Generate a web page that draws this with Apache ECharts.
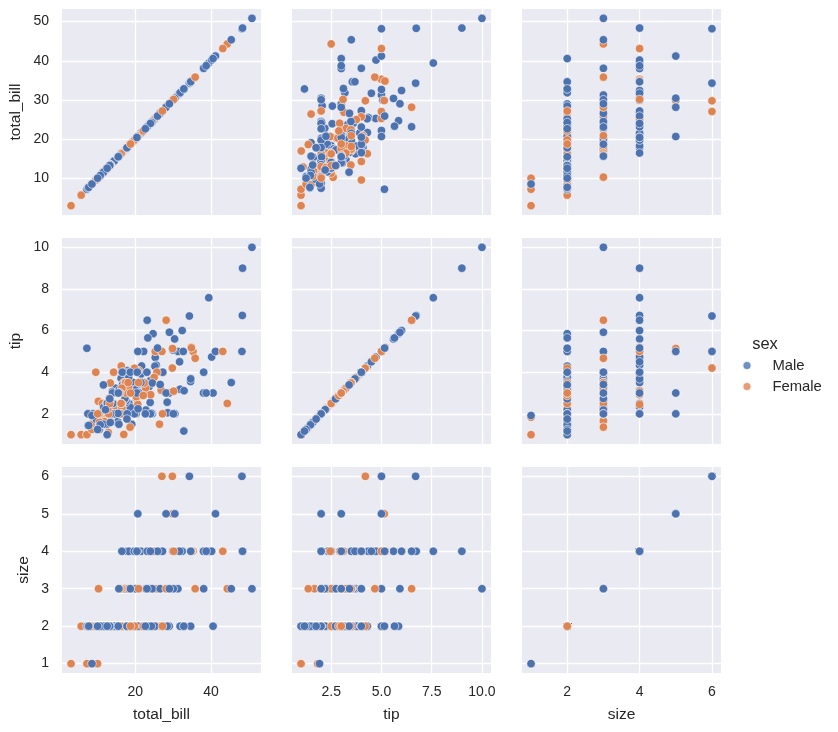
<!DOCTYPE html>
<html>
<head>
<meta charset="utf-8">
<script src="https://cdn.jsdelivr.net/npm/echarts@6/dist/echarts.min.js"></script>
<style>
html,body{margin:0;padding:0;background:#fff;}
#chart{width:838px;height:732px;}
</style>
</head>
<body>
<div id="chart"></div>
<script>
// ---- data (tips dataset as shown) ----
const totalBill = [
16.99,10.34,21.01,23.68,24.59,25.29,8.77,26.88,15.04,14.78,
10.27,35.26,15.42,18.43,14.83,21.58,10.33,16.29,16.97,20.65,
17.92,20.29,15.77,39.42,19.82,17.81,13.37,12.69,21.7,19.65,
9.55,18.35,15.06,20.69,17.78,24.06,16.31,16.93,18.69,31.27,
16.04,17.46,13.94,9.68,30.4,18.29,22.23,32.4,28.55,18.04,
12.54,10.29,34.81,9.94,25.56,19.49,38.01,26.41,11.24,48.27,
20.29,13.81,11.02,18.29,17.59,20.08,16.45,3.07,20.23,15.01,
12.02,17.07,26.86,25.28,14.73,10.51,17.92,27.2,22.76,17.29,
19.44,16.66,10.07,32.68,15.98,34.83,13.03,18.28,24.71,21.16,
28.97,22.49,5.75,16.32,22.75,40.17,27.28,12.03,21.01,12.46,
11.35,15.38,44.3,22.42,20.92,15.36,20.49,25.21,18.24,14.31,
14.0,7.25,38.07,23.95,25.71,17.31,29.93,10.65,12.43,24.08,
11.69,13.42,14.26,15.95,12.48,29.8,8.52,14.52,11.38,22.82,
19.08,20.27,11.17,12.26,18.26,8.51,10.33,14.15,16.0,13.16,
17.47,34.3,41.19,27.05,16.43,8.35,18.64,11.87,9.78,7.51,
14.07,13.13,17.26,24.55,19.77,29.85,48.17,25.0,13.39,16.49,
21.5,12.66,16.21,13.81,17.51,24.52,20.76,31.71,10.59,10.63,
50.81,15.81,7.25,31.85,16.82,32.9,17.89,14.48,9.6,34.63,
34.65,23.33,45.35,23.17,40.55,20.69,20.9,30.46,18.15,23.1,
15.69,19.81,28.44,15.48,16.58,7.56,10.34,43.11,13.0,13.51,
18.71,12.74,13.0,16.4,20.53,16.47,26.59,38.73,24.27,12.76,
30.06,25.89,48.33,13.27,28.17,12.9,28.15,11.59,7.74,30.14,
12.16,13.42,8.58,15.98,13.42,16.27,10.09,20.45,13.28,22.12,
24.01,15.69,11.61,10.77,15.53,10.07,12.6,32.83,35.83,29.03,
27.18,22.67,17.82,18.78
];
const tip = [
1.01,1.66,3.5,3.31,3.61,4.71,2.0,3.12,1.96,3.23,
1.71,5.0,1.57,3.0,3.02,3.92,1.67,3.71,3.5,3.35,
4.08,2.75,2.23,7.58,3.18,2.34,2.0,2.0,4.3,3.0,
1.45,2.5,3.0,2.45,3.27,3.6,2.0,3.07,2.31,5.0,
2.24,2.54,3.06,1.32,5.6,3.0,5.0,6.0,2.05,3.0,
2.5,2.6,5.2,1.56,4.34,3.51,3.0,1.5,1.76,6.73,
3.21,2.0,1.98,3.76,2.64,3.15,2.47,1.0,2.01,2.09,
1.97,3.0,3.14,5.0,2.2,1.25,3.08,4.0,3.0,2.71,
3.0,3.4,1.83,5.0,2.03,5.17,2.0,4.0,5.85,3.0,
3.0,3.5,1.0,4.3,3.25,4.73,4.0,1.5,3.0,1.5,
2.5,3.0,2.5,3.48,4.08,1.64,4.06,4.29,3.76,4.0,
3.0,1.0,4.0,2.55,4.0,3.5,5.07,1.5,1.8,2.92,
2.31,1.68,2.5,2.0,2.52,4.2,1.48,2.0,2.0,2.18,
1.5,2.83,1.5,2.0,3.25,1.25,2.0,2.0,2.0,2.75,
3.5,6.7,5.0,5.0,2.3,1.5,1.36,1.63,1.73,2.0,
2.5,2.0,2.74,2.0,2.0,5.14,5.0,3.75,2.61,2.0,
3.5,2.5,2.0,2.0,3.0,3.48,2.24,4.5,1.61,2.0,
10.0,3.16,5.15,3.18,4.0,3.11,2.0,2.0,4.0,3.55,
3.68,5.65,3.5,6.5,3.0,5.0,3.5,2.0,3.5,4.0,
1.5,4.19,2.56,2.02,4.0,1.44,2.0,5.0,2.0,2.0,
4.0,2.01,2.0,2.5,4.0,3.23,3.41,3.0,2.03,2.23,
2.0,5.16,9.0,2.5,6.5,1.1,3.0,1.5,1.44,3.09,
2.2,3.48,1.92,3.0,1.58,2.5,2.0,3.0,2.72,2.88,
2.0,3.0,3.39,1.47,3.0,1.25,1.0,1.17,4.67,5.92,
2.0,2.0,1.75,3.0
];
const sex = [
'F','M','M','M','F','M','M','M','M','M',
'M','F','M','M','F','M','F','M','F','M',
'M','F','F','M','M','M','M','M','M','F',
'M','M','F','F','M','M','M','F','M','M',
'M','M','M','M','M','M','M','M','M','M',
'M','F','F','M','M','M','M','F','M','M',
'M','M','M','M','M','M','F','F','M','M',
'M','F','F','F','F','M','M','M','M','M',
'M','M','F','M','M','F','M','M','M','M',
'M','M','F','F','F','M','M','M','M','M',
'F','F','F','F','F','M','M','M','M','F',
'M','F','M','M','F','F','M','F','F','F',
'M','F','M','M','F','F','M','F','F','M',
'M','F','F','F','F','F','F','F','M','F',
'F','M','M','F','F','F','F','F','M','M',
'M','M','M','M','M','F','M','F','F','M',
'M','M','F','M','F','M','M','M','F','F',
'M','M','M','M','M','M','M','M','F','M',
'M','M','M','M','M','M','F','M','F','M',
'M','F','M','M','M','M','M','F','F','M',
'M','F','F','F','M','F','M','M','M','F',
'M','M','M','F','F','F','M','M','M','F',
'M','F','M','F','M','F','F','M','M','F',
'M','M','M','M','M','M','M','M','F','M',
'F','M','M','F'
];
const size = [
2,3,3,2,4,4,2,4,2,2,
2,4,2,4,2,2,3,3,3,3,
2,2,2,4,2,4,2,2,2,2,
2,4,2,4,2,3,3,3,3,3,
3,2,2,2,4,2,2,4,3,2,
2,2,4,2,4,2,4,2,2,4,
2,2,2,4,3,3,2,1,2,2,
2,3,2,2,2,2,2,4,2,2,
2,2,1,2,2,4,2,2,2,2,
2,2,2,2,2,4,2,2,2,2,
2,2,3,2,2,2,2,2,2,2,
2,1,3,2,3,2,4,2,2,4,
2,2,2,2,2,6,2,2,2,3,
2,2,2,2,2,2,2,2,2,2,
2,6,5,6,2,2,3,2,2,2,
2,2,3,4,4,5,6,4,2,4,
4,2,3,2,2,3,2,4,2,2,
3,2,2,2,2,2,2,2,2,2,
4,2,3,4,2,5,3,5,3,3,
2,2,2,2,2,2,2,4,2,2,
3,2,2,2,4,3,3,4,2,2,
3,4,4,2,3,2,5,2,2,4,
2,2,1,3,2,2,2,4,2,2,
4,3,2,2,2,2,2,2,3,3,
2,2,2,2
];

const varNames = ['total_bill', 'tip', 'size'];
const sexLevels = ['M', 'F'];
const sexLabels = ['Male', 'Female'];
const legendTitle = 'sex';

// tick values / labels
const billXTicks = [20, 40];
const billXLabels = ['20', '40'];
const billYTicks = [10, 20, 30, 40, 50];
const billYLabels = ['10', '20', '30', '40', '50'];
const tipXTicks = [2.5, 5, 7.5, 10];
const tipXLabels = ['2.5', '5.0', '7.5', '10.0'];
const tipYTicks = [2, 4, 6, 8, 10];
const tipYLabels = ['2', '4', '6', '8', '10'];
const sizeXTicks = [2, 4, 6];
const sizeXLabels = ['2', '4', '6'];
const sizeYTicks = [1, 2, 3, 4, 5, 6];
const sizeYLabels = ['1', '2', '3', '4', '5', '6'];

// ---- presentation ----
const COLORS = ['#4C72B0', '#DD8452'];
const FONT = '"Liberation Sans", Arial, sans-serif';
const TXT = '#262626';
const colLeft = [62, 292, 522];
const rowTop = [9, 238, 467];
const PW = 199, PH = 206;
const yNameGap = [38, 38, 30];

const columns = [totalBill, tip, size];
const xTickSets = [[billXTicks, billXLabels], [tipXTicks, tipXLabels], [sizeXTicks, sizeXLabels]];
const yTickSets = [[billYTicks, billYLabels], [tipYTicks, tipYLabels], [sizeYTicks, sizeYLabels]];

function padRange(arr) {
  const mn = Math.min.apply(null, arr), mx = Math.max.apply(null, arr);
  const p = (mx - mn) * 0.05;
  return [mn - p, mx + p];
}
const ranges = columns.map(padRange);

function labeler(ticks, labels) {
  return function (v) {
    for (let i = 0; i < ticks.length; i++) {
      if (Math.abs(ticks[i] - v) < 1e-9) return labels[i];
    }
    return '';
  };
}

const grids = [], xAxes = [], yAxes = [], series = [];
for (let r = 0; r < 3; r++) {
  for (let c = 0; c < 3; c++) {
    const gi = r * 3 + c;
    grids.push({
      left: colLeft[c], top: rowTop[r], width: PW, height: PH,
      show: true, backgroundColor: '#EAEAF2', borderWidth: 0, containLabel: false
    });
    const [xt, xl] = xTickSets[c];
    const [yt, yl] = yTickSets[r];
    xAxes.push({
      type: 'value', gridIndex: gi, min: ranges[c][0], max: ranges[c][1],
      axisLine: { show: false },
      axisTick: { show: false, customValues: xt },
      axisLabel: { show: r === 2, customValues: xt, formatter: labeler(xt, xl),
        margin: 12, color: TXT, fontSize: 14, fontFamily: FONT },
      splitLine: { show: true, lineStyle: { color: '#ffffff', width: 1.3 } },
      name: r === 2 ? varNames[c] : '', nameLocation: 'middle', nameGap: 34,
      nameTextStyle: { color: TXT, fontSize: 15.5, fontFamily: FONT }
    });
    yAxes.push({
      type: 'value', gridIndex: gi, min: ranges[r][0], max: ranges[r][1],
      axisLine: { show: false },
      axisTick: { show: false, customValues: yt },
      axisLabel: { show: c === 0, customValues: yt, formatter: labeler(yt, yl),
        margin: 13, color: TXT, fontSize: 14, fontFamily: FONT },
      splitLine: { show: true, lineStyle: { color: '#ffffff', width: 1.3 } },
      name: c === 0 ? varNames[r] : '', nameLocation: 'middle', nameGap: yNameGap[r],
      nameTextStyle: { color: TXT, fontSize: 15.5, fontFamily: FONT }
    });
    const xs = columns[c], ys = columns[r];
    const data = xs.map((v, i) => [v, ys[i], sexLevels.indexOf(sex[i])]);
    series.push({
      type: 'scatter', xAxisIndex: gi, yAxisIndex: gi, data: data,
      symbol: 'circle', symbolSize: 8.5, silent: true,
      itemStyle: {
        color: function (p) { return COLORS[p.value[2]]; },
        borderColor: '#ffffff', borderWidth: 0.6, opacity: 1
      }
    });
  }
}
// legend-only series
sexLabels.forEach((name, k) => {
  series.push({
    type: 'scatter', name: name, xAxisIndex: 0, yAxisIndex: 0, data: [],
    symbol: 'circle', itemStyle: { color: COLORS[k], borderColor: '#ffffff', borderWidth: 0.6 }
  });
});

const chart = echarts.init(document.getElementById('chart'), null, { renderer: 'canvas' });
chart.setOption({
  animation: false,
  backgroundColor: '#ffffff',
  grid: grids, xAxis: xAxes, yAxis: yAxes, series: series,
  legend: {
    data: sexLabels, orient: 'vertical', left: 741.5, top: 358, padding: 0,
    icon: 'circle', itemWidth: 9, itemHeight: 9, itemGap: 6,
    selectedMode: false,
    textStyle: { color: TXT, fontSize: 14.8, fontFamily: FONT, padding: [0, 0, 0, 16] }
  },
  graphic: [{
    type: 'text', x: 765, y: 344,
    style: { text: legendTitle, fill: TXT, font: '16.5px ' + FONT, align: 'center', verticalAlign: 'middle' }
  }]
});
</script>
</body>
</html>
